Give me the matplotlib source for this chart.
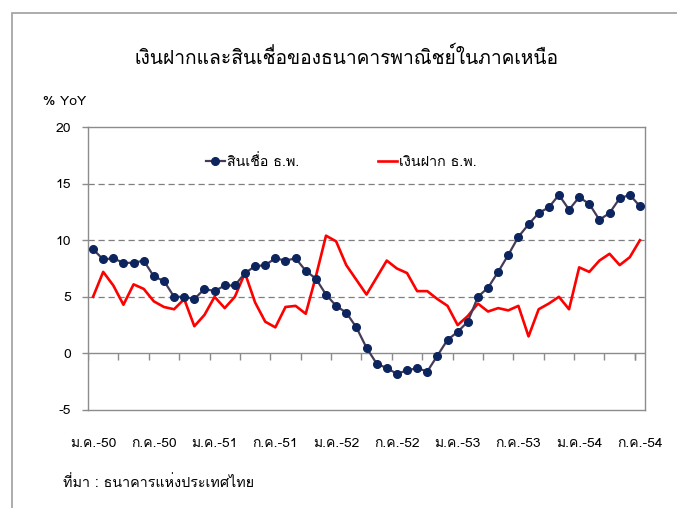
import matplotlib
matplotlib.use('Agg')
import matplotlib.pyplot as plt
from matplotlib.patches import Rectangle

plt.rcParams['font.family'] = ['Loma', 'Noto Sans Thai Looped', 'DejaVu Sans']

# monthly data, Jan 2007 (B.E. 2550) .. Jul 2011 (B.E. 2554)
months = list(range(55))
loans = [9.2, 8.3, 8.4, 8.0, 8.0, 8.2, 6.8, 6.4, 5.0, 5.0, 4.8, 5.7, 5.5, 6.0, 6.0,
         7.1, 7.7, 7.8, 8.4, 8.2, 8.4, 7.3, 6.6, 5.2, 4.2, 3.6, 2.3, 0.5, -0.9, -1.3,
         -1.8, -1.5, -1.3, -1.6, -0.2, 1.2, 1.9, 2.8, 5.0, 5.8, 7.2, 8.7, 10.3, 11.4,
         12.4, 12.9, 14.0, 12.7, 13.8, 13.2, 11.8, 12.4, 13.7, 14.0, 13.0]
deposits = [5.0, 7.2, 6.0, 4.3, 6.1, 5.7, 4.6, 4.1, 3.9, 4.8, 2.4, 3.4, 5.0, 4.0, 5.0,
            7.1, 4.5, 2.8, 2.3, 4.1, 4.2, 3.5, 6.8, 10.4, 9.9, 7.8, 6.5, 5.2, 6.7, 8.2,
            7.5, 7.1, 5.5, 5.5, 4.8, 4.2, 2.5, 3.3, 4.4, 3.7, 4.0, 3.8, 4.2, 1.5,
            3.9, 4.4, 5.0, 3.9, 7.6, 7.2, 8.2, 8.8, 7.8, 8.5, 10.0]
label_pos = [0, 6, 12, 18, 24, 30, 36, 42, 48, 54]
labels = ['ม.ค.-50', 'ก.ค.-50', 'ม.ค.-51', 'ก.ค.-51', 'ม.ค.-52', 'ก.ค.-52',
          'ม.ค.-53', 'ก.ค.-53', 'ม.ค.-54', 'ก.ค.-54']
yticks = [-5, 0, 5, 10, 15, 20]

W, H = 677, 508
fig = plt.figure(figsize=(W / 100, H / 100), dpi=100)
ax = fig.add_axes([88 / W, 1 - 410 / H, (645 - 88) / W, (410 - 127) / H])

# outer chart frame (runs off right and bottom edges)
fig.patches.append(Rectangle((12 / W, -0.1), 1.0, 1 - 13 / H + 0.1, transform=fig.transFigure,
                             fill=False, edgecolor='#a6a6a6', linewidth=1.3))

grey = '#8c8c8c'
for v in [5, 10, 15]:
    ax.axhline(v, color='#7f7f7f', linestyle=(0, (5, 3)), linewidth=0.9, zorder=1)
ax.axhline(0, color=grey, linewidth=1.0, zorder=1)
ax.vlines([m - 0.5 for m in months[::3]] + [53.5], 0, -0.6, color=grey, linewidth=1.0, zorder=1)

l1, = ax.plot(months, loans, color='#453b58', linewidth=1.6, marker='o', markersize=5.5,
              markerfacecolor='#0c255e', markeredgecolor='#0c255e', zorder=3)
l2, = ax.plot(months, deposits, color='#ff0000', linewidth=1.9, zorder=2)

ax.set_xlim(-0.5, 54.5)
ax.set_ylim(-5, 20)
ax.set_yticks(yticks)
ax.set_yticklabels([str(v) for v in yticks])
ax.set_xticks(label_pos)
ax.set_xticklabels(labels)
ax.tick_params(axis='x', length=0, pad=20, labelsize=10)
ax.tick_params(axis='y', length=4.5, width=1.0, color=grey, pad=8, labelsize=10)
for s in ax.spines.values():
    s.set_color(grey)
    s.set_linewidth(1.0)

leg1 = fig.legend([l1], ['สินเชื่อ ธ.พ.'], loc='center left', bbox_to_anchor=(206 / W, 1 - 162 / H),
                  frameon=False, fontsize=10.3, handlelength=1.3, handletextpad=0.15,
                  borderpad=0, borderaxespad=0)
leg2 = fig.legend([l2], ['เงินฝาก ธ.พ.'], loc='center left', bbox_to_anchor=(378 / W, 1 - 162 / H),
                  frameon=False, fontsize=10.3, handlelength=1.3, handletextpad=0.15,
                  borderpad=0, borderaxespad=0)

fig.text(347 / W, 1 - 57 / H, 'เงินฝากและสินเชื่อของธนาคารพาณิชย์ในภาคเหนือ', ha='center', va='center',
         fontsize=13.8)
fig.text(43 / W, 1 - 102 / H, '% YoY', ha='left', va='center', fontsize=10)
fig.text(63 / W, 1 - 483 / H, 'ที่มา : ธนาคารแห่งประเทศไทย', ha='left', va='center', fontsize=10.3)

fig.savefig('out.png', dpi=100)
